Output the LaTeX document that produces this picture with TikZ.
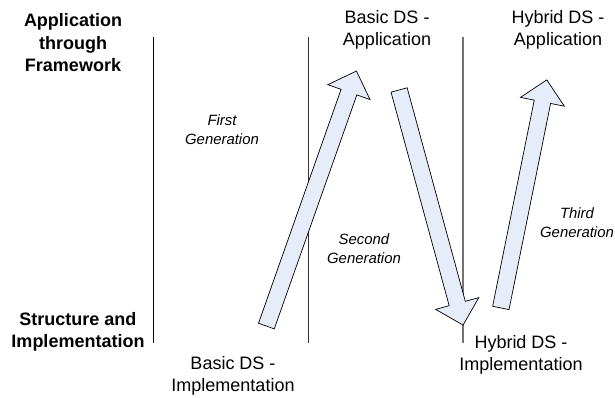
\documentclass[tikz,border=0pt]{standalone}
\usepackage{fontspec}
\setmainfont{Liberation Sans}
\usetikzlibrary{shapes.arrows}
\definecolor{arrowfill}{RGB}{230,236,248}
\begin{document}
\begin{tikzpicture}[x=0.025cm,y=-0.025cm,
  axislabel/.style={align=center,font=\bfseries\fontsize{12.8}{16}\selectfont},
  dslabel/.style={align=center,font=\fontsize{12.8}{15.6}\selectfont},
  genlabel/.style={align=center,font=\itshape\fontsize{10.6}{13.4}\selectfont},
  genarrow/.style={draw,shape=single arrow,fill=arrowfill,line width=0.5pt,
    inner sep=0.2cm,single arrow head extend=0.35cm,single arrow tip angle=90}]
\useasboundingbox (0,0) rectangle (615,398);
% separators
\draw[black,line width=0.6pt] (153,37) -- (153,343);
\draw[black!80,line width=0.6pt] (308,37) -- (308,343);
\draw[black!55,line width=0.8pt] (463,37) -- (463,343);
% levels
\node[axislabel] (app) at (73,43) {Application\\through\\Framework};
\node[axislabel] (impl) at (78,332) {Structure and\\Implementation};
% data structures
\node[dslabel] (basicimpl) at (233,376) {Basic DS -\\Implementation};
\node[dslabel] (basicapp) at (387,30) {Basic DS -\\Application};
\node[dslabel] (hybimpl) at (521,355) {Hybrid DS -\\Implementation};
\node[dslabel] (hybapp) at (558,30) {Hybrid DS -\\Application};
% generations
\node[genarrow,rotate=70.56,minimum height=6.76cm] (gen1) at (310,202.5) {};
\node[genarrow,rotate=-74.77,minimum height=6.09cm] (gen2) at (430,203.5) {};
\node[genarrow,rotate=78.6,minimum height=5.815cm] (gen3) at (523,198) {};
\node[genlabel] (first) at (222,130) {First\\Generation};
\node[genlabel] (second) at (364,249) {Second\\Generation};
\node[genlabel] (third) at (577,223) {Third\\Generation};
\end{tikzpicture}
\end{document}
